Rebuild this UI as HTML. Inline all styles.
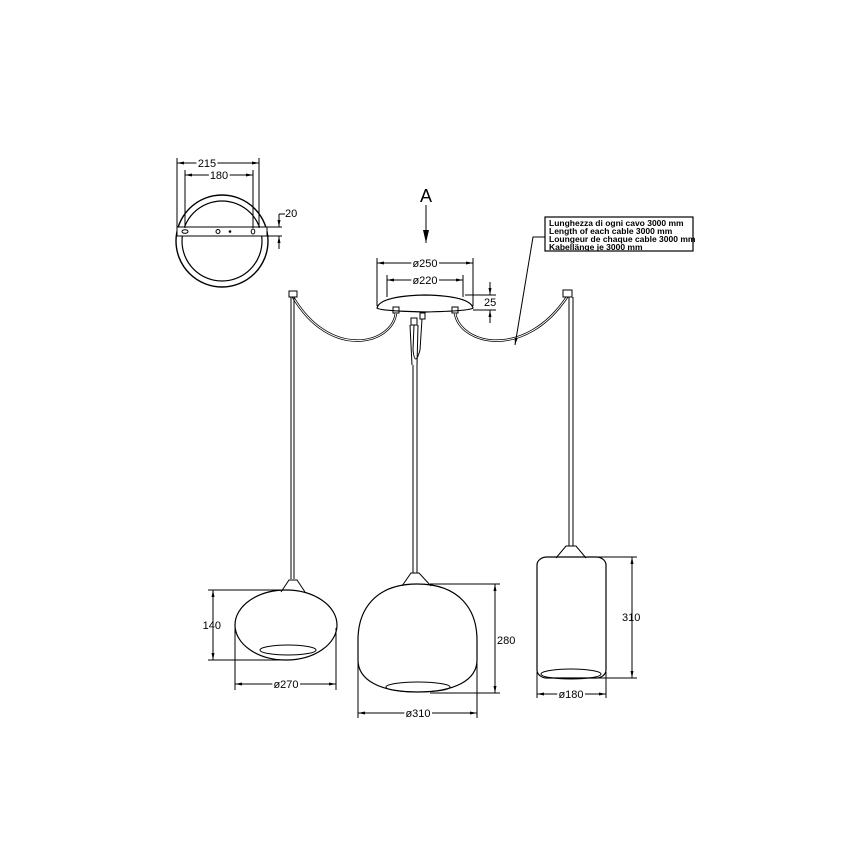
<!DOCTYPE html>
<html><head><meta charset="utf-8"><style>
html,body{margin:0;padding:0;background:#fff;}
svg{display:block;}
text{font-family:"Liberation Sans",sans-serif;fill:#000;}
</style></head><body>
<svg width="868" height="868" viewBox="0 0 868 868" xmlns="http://www.w3.org/2000/svg">
<defs>
<marker id="ar" markerWidth="8" markerHeight="8" refX="7" refY="4" orient="auto-start-reverse" markerUnits="userSpaceOnUse"><path d="M0,2.5 L7,4 L0,5.5z" fill="#000"/></marker>
<marker id="big" markerWidth="10" markerHeight="14" refX="5" refY="13" orient="0" markerUnits="userSpaceOnUse"><path d="M2,0 L5,13 L8,0z" fill="#000"/></marker>
</defs>
<g fill="none" stroke="#000" stroke-width="1">
<!-- top view -->
<circle cx="222" cy="241" r="46" stroke-width="1.4"/>
<circle cx="222" cy="241" r="40" stroke-width="1.2"/>
<rect x="177" y="227" width="90" height="9" fill="#fff"/>
<ellipse cx="185" cy="231.5" rx="3" ry="1.8"/>
<circle cx="218" cy="231.5" r="2"/>
<circle cx="230" cy="231.5" r="0.8" fill="#000"/>
<ellipse cx="253" cy="231.5" rx="1.8" ry="2.5"/>
<line x1="177" y1="158" x2="177" y2="228"/><line x1="259" y1="158" x2="259" y2="228"/>
<line x1="185" y1="170" x2="185" y2="228"/><line x1="253" y1="170" x2="253" y2="228"/>
<line x1="177" y1="163" x2="259" y2="163" marker-start="url(#ar)" marker-end="url(#ar)"/>
<line x1="185" y1="175" x2="253" y2="175" marker-start="url(#ar)" marker-end="url(#ar)"/>
<line x1="267" y1="227" x2="282" y2="227"/><line x1="267" y1="236" x2="282" y2="236"/>
<line x1="279" y1="214" x2="279" y2="227" marker-end="url(#ar)"/>
<line x1="279" y1="249" x2="279" y2="236" marker-end="url(#ar)"/>
<line x1="279" y1="214" x2="285" y2="214"/>
<!-- A arrow -->
<line x1="426" y1="205" x2="426" y2="243" marker-end="url(#big)"/>
<!-- canopy -->
<path d="M377,308 Q380,296 425,295 Q470,296 473,308 Q470,311 425,312 Q380,311 377,308z" stroke-width="1.2"/>
<line x1="377" y1="258" x2="377" y2="306"/><line x1="473" y1="258" x2="473" y2="306"/>
<line x1="387" y1="275" x2="387" y2="297"/><line x1="463" y1="275" x2="463" y2="297"/>
<line x1="377" y1="263" x2="473" y2="263" marker-start="url(#ar)" marker-end="url(#ar)"/>
<line x1="387" y1="280" x2="463" y2="280" marker-start="url(#ar)" marker-end="url(#ar)"/>
<line x1="465" y1="295" x2="496" y2="295"/><line x1="473" y1="310" x2="496" y2="310"/>
<line x1="490" y1="282" x2="490" y2="295" marker-end="url(#ar)"/>
<line x1="490" y1="323" x2="490" y2="310" marker-end="url(#ar)"/>
<!-- connectors -->
<rect x="393" y="307" width="6" height="6"/><rect x="452" y="307" width="6" height="6"/>
<rect x="420" y="313" width="5" height="6"/><rect x="411" y="318" width="6" height="7"/>
<!-- cables -->
<path d="M396,313 C392,345 330,360 293,297" stroke-width="2.5"/>
<path d="M396,313 C392,345 330,360 293,297" stroke="#fff" stroke-width="1"/>
<path d="M455,313 C460,345 525,360 567,297" stroke-width="2.5"/>
<path d="M455,313 C460,345 525,360 567,297" stroke="#fff" stroke-width="1"/>
<path d="M414,325 L413,350 Q415,368 420,350 L422,319" stroke-width="1"/>
<path d="M410,325 L412,365 M418,325 L417,365"/>
<rect x="289" y="291" width="8" height="6"/><rect x="563" y="290" width="9" height="7"/>
<!-- cords -->
<line x1="291" y1="297" x2="291" y2="579"/><line x1="294" y1="297" x2="294" y2="579"/>
<line x1="413" y1="365" x2="413" y2="573"/><line x1="417" y1="365" x2="417" y2="573"/>
<line x1="569" y1="297" x2="569" y2="546"/><line x1="573" y1="297" x2="573" y2="546"/>
<!-- label -->
<rect x="545" y="217" width="148" height="34" stroke-width="1.2"/>
<path d="M545,237 L533,237 L515,345" marker-end="url(#ar)"/>
<!-- left lamp -->
<path d="M281,592 L289,580 L297,580 L305,592"/>
<ellipse cx="286" cy="625" rx="51" ry="35" stroke-width="1.2"/>
<ellipse cx="288" cy="650" rx="28" ry="5"/>
<line x1="208" y1="590" x2="282" y2="590"/><line x1="208" y1="660" x2="282" y2="660"/>
<line x1="213" y1="590" x2="213" y2="660" marker-start="url(#ar)" marker-end="url(#ar)"/>
<line x1="235" y1="628" x2="235" y2="690"/><line x1="336" y1="628" x2="336" y2="690"/>
<line x1="235" y1="684" x2="336" y2="684" marker-start="url(#ar)" marker-end="url(#ar)"/>
<!-- middle lamp -->
<path d="M402,586 L411,573 L419,573 L431,586"/>
<path d="M417,584 C375,584 358,610 358,640 L358,660 C358,680 380,692 417,692 C455,692 477,680 477,660 L477,640 C477,610 460,584 417,584z" stroke-width="1.2"/>
<ellipse cx="418" cy="687" rx="32" ry="5"/>
<line x1="430" y1="584" x2="500" y2="584"/><line x1="430" y1="693" x2="500" y2="693"/>
<line x1="495" y1="584" x2="495" y2="693" marker-start="url(#ar)" marker-end="url(#ar)"/>
<line x1="358" y1="650" x2="358" y2="718"/><line x1="477" y1="650" x2="477" y2="718"/>
<line x1="358" y1="713" x2="477" y2="713" marker-start="url(#ar)" marker-end="url(#ar)"/>
<!-- right lamp -->
<path d="M556,558 L566,546 L576,546 L586,558"/>
<rect x="537" y="557" width="69" height="121" rx="10" ry="8" stroke-width="1.2"/>
<ellipse cx="571" cy="674" rx="30" ry="5"/>
<line x1="590" y1="557" x2="637" y2="557"/><line x1="590" y1="678" x2="637" y2="678"/>
<line x1="632" y1="557" x2="632" y2="678" marker-start="url(#ar)" marker-end="url(#ar)"/>
<line x1="537" y1="672" x2="537" y2="698"/><line x1="606" y1="672" x2="606" y2="698"/>
<line x1="537" y1="694" x2="606" y2="694" marker-start="url(#ar)" marker-end="url(#ar)"/>
</g>
<g font-size="11">
<text x="207" y="167" text-anchor="middle" style="paint-order:stroke" stroke="#fff" stroke-width="4">215</text>
<text x="219" y="179" text-anchor="middle" style="paint-order:stroke" stroke="#fff" stroke-width="4">180</text>
<text x="285" y="217">20</text>
<text x="425" y="267" text-anchor="middle" style="paint-order:stroke" stroke="#fff" stroke-width="4">ø250</text>
<text x="425" y="284" text-anchor="middle" style="paint-order:stroke" stroke="#fff" stroke-width="4">ø220</text>
<text x="484" y="306">25</text>
<text x="221" y="629" text-anchor="end">140</text>
<text x="286" y="688" text-anchor="middle" style="paint-order:stroke" stroke="#fff" stroke-width="4">ø270</text>
<text x="497" y="644">280</text>
<text x="418" y="717" text-anchor="middle" style="paint-order:stroke" stroke="#fff" stroke-width="4">ø310</text>
<text x="622" y="621">310</text>
<text x="571" y="698" text-anchor="middle" style="paint-order:stroke" stroke="#fff" stroke-width="4">ø180</text>
</g>
<text x="426" y="202" font-family="Liberation Serif" font-size="18" text-anchor="middle">A</text>
<g font-size="8.5" font-weight="bold">
<text x="549" y="226">Lunghezza di ogni cavo 3000 mm</text>
<text x="549" y="234">Length of each cable 3000 mm</text>
<text x="549" y="242">Loungeur de chaque cable 3000 mm</text>
<text x="549" y="250">Kabellänge je 3000 mm</text>
</g>
</svg>
</body></html>
